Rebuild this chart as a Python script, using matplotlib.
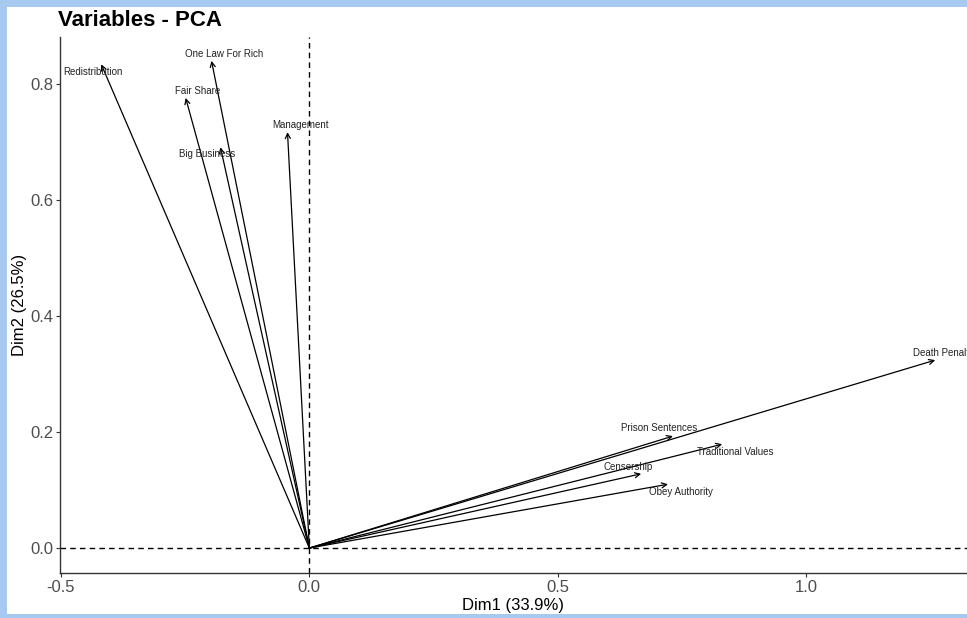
import matplotlib
matplotlib.use("Agg")
import matplotlib.pyplot as plt
from matplotlib.patches import Rectangle

plt.rcParams["font.family"] = ["Liberation Sans", "DejaVu Sans"]

# --- data (PCA variable loadings) ---
variables = ["Redistribution", "One Law For Rich", "Fair Share", "Big Business",
             "Management", "Death Penalty", "Prison Sentences", "Traditional Values",
             "Censership", "Obey Authority"]
dim1 = [-0.419, -0.197, -0.249, -0.179, -0.044, 1.260, 0.732, 0.831, 0.668, 0.722]
dim2 = [0.834, 0.840, 0.776, 0.691, 0.717, 0.324, 0.193, 0.179, 0.128, 0.110]
# repelled label positions
label_x = [-0.435, -0.171, -0.225, -0.205, -0.018, 1.276, 0.704, 0.857, 0.642, 0.748]
label_y = [0.821, 0.852, 0.788, 0.679, 0.729, 0.336, 0.207, 0.166, 0.140, 0.097]

W, H = 967, 618
fig = plt.figure(figsize=(W / 100, H / 100), dpi=100, facecolor="#a7c9f0")
# white panel inside the light blue frame
fig.patches.append(Rectangle((7 / W, 4 / H), 1 - 7 / W, 1 - 11 / H,
                             transform=fig.transFigure, facecolor="white",
                             edgecolor="none", zorder=0))

ax = fig.add_axes([60 / W, 1 - 573 / H, 1 - 60 / W, (573 - 37) / H])
ax.set_facecolor("none")
ax.set_zorder(2)

ax.axhline(0, color="black", lw=1.0, ls=(0, (4, 3)), zorder=1)
ax.axvline(0, color="black", lw=1.0, ls=(0, (4, 3)), zorder=1)

for name, x, y, lx, ly in zip(variables, dim1, dim2, label_x, label_y):
    ax.annotate("", xy=(x, y), xytext=(0, 0),
                arrowprops=dict(arrowstyle="->", color="black", lw=0.9,
                                mutation_scale=9, shrinkA=0, shrinkB=0))
    ax.text(lx, ly, name, fontsize=7, ha="center", va="center", color="#222222")

ax.set_xlim(-0.502, 1.324)
ax.set_ylim(-0.043, 0.881)
ax.set_xticks([-0.5, 0.0, 0.5, 1.0])
ax.set_yticks([0.0, 0.2, 0.4, 0.6, 0.8])
ax.set_xticklabels(["-0.5", "0.0", "0.5", "1.0"])
ax.set_yticklabels(["0.0", "0.2", "0.4", "0.6", "0.8"])
ax.tick_params(labelsize=12, color="#333333", labelcolor="#4d4d4d",
               length=3, width=0.8, pad=2)

for side in ["top", "right"]:
    ax.spines[side].set_visible(False)
for side in ["left", "bottom"]:
    ax.spines[side].set_color("#333333")
    ax.spines[side].set_linewidth(1.0)

ax.set_xlabel("Dim1 (33.9%)", fontsize=12, labelpad=2)
ax.set_ylabel("Dim2 (26.5%)", fontsize=12, labelpad=2)

fig.text(58 / W, 1 - 20 / H, "Variables - PCA", fontsize=16, fontweight="bold",
         ha="left", va="center")

fig.savefig("out.png", dpi=100, facecolor=fig.get_facecolor())
